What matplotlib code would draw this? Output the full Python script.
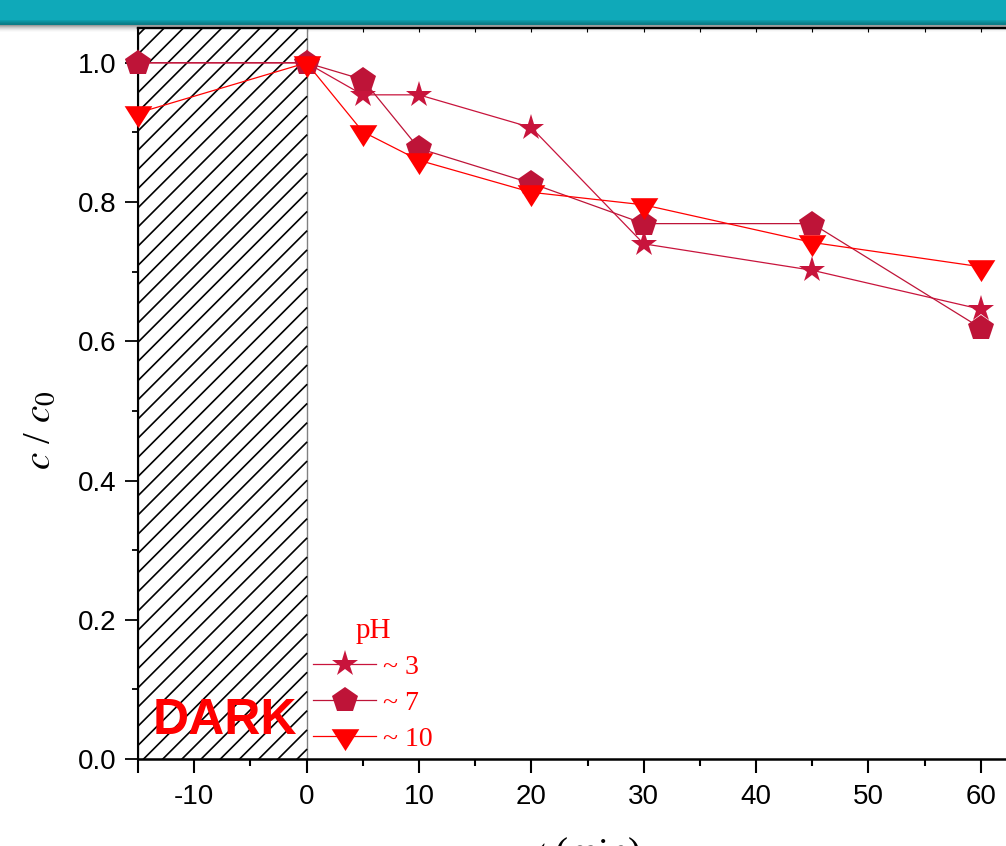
import matplotlib
matplotlib.use('Agg')
import matplotlib.pyplot as plt
import numpy as np
from matplotlib.patches import Rectangle
from matplotlib.lines import Line2D

# ---------------- data ----------------
time_min = [-15, 0, 5, 10, 20, 30, 45, 60]
ph3 = [1.0, 1.0, 0.954, 0.954, 0.907, 0.740, 0.702, 0.646]
ph7 = [1.0, 1.0, 0.976, 0.877, 0.827, 0.769, 0.769, 0.619]
ph10 = [0.928, 1.0, 0.901, 0.860, 0.814, 0.796, 0.742, 0.707]
series_labels = ['~ 3', '~ 7', '~ 10']
legend_title = 'pH'
x_ticks = [-15, -10, 0, 10, 20, 30, 40, 50, 60]
x_ticklabels = ['', '-10', '0', '10', '20', '30', '40', '50', '60']
y_ticks = [0.0, 0.2, 0.4, 0.6, 0.8, 1.0]
dark_start, dark_end = -15, 0

plt.rcParams['mathtext.fontset'] = 'stix'
SANS = 'Liberation Sans'
SERIF = 'Liberation Serif'

W, H = 1006, 846
fig = plt.figure(figsize=(W / 100, H / 100), dpi=100)
fig.patch.set_facecolor('white')

# slide banner
fig.add_artist(Rectangle((0, 1 - 20 / H), 1, 20 / H, transform=fig.transFigure,
                         facecolor='#0FA9B9', edgecolor='none', zorder=-5))
band_cols = ['#0D9CAB', '#0C929F', '#0B8995', '#0A808B', '#0B7D88']
for i, c in enumerate(band_cols):
    fig.add_artist(Rectangle((0, 1 - (21 + i) / H), 1, 1 / H, transform=fig.transFigure,
                             facecolor=c, edgecolor='none', zorder=-5))
shadow = ['#9C9C9C', '#B4B4B4', '#C9C9C9', '#DADADA', '#E8E8E8', '#F3F3F3', '#FAFAFA']
for i, c in enumerate(shadow):
    fig.add_artist(Rectangle((0, 1 - (26 + i) / H), 1, 1 / H, transform=fig.transFigure,
                             facecolor=c, edgecolor='none', zorder=-5))

ax = fig.add_axes([138 / W, 87 / H, (1037 - 138) / W, (759 - 28) / H])
ax.patch.set_alpha(0)
ax.set_xlim(-15, 65)
ax.set_ylim(0, 1.05)

# dark region with diagonal hatch (lines clipped to the region by hand)
rect = Rectangle((dark_start, 0), dark_end - dark_start, 1.05, facecolor='white',
                 edgecolor='#808080', linewidth=1.0, zorder=1)
ax.add_patch(rect)
p0 = ax.transData.transform((dark_start, 0))
p1 = ax.transData.transform((dark_end, 1.05))
hh = p1[1] - p0[1]
inv = ax.transData.inverted()
spacing = 19.2
c = p0[0] + 7 - hh
while c > p0[0] - hh:
    c -= spacing
while c < p1[0]:
    t0 = max(0.0, (p0[0] - c) / hh)
    t1 = min(1.0, (p1[0] - c) / hh)
    if t1 > t0:
        a = inv.transform((c + t0 * hh, p0[1] + t0 * hh))
        b = inv.transform((c + t1 * hh, p0[1] + t1 * hh))
        ax.add_line(Line2D([a[0], b[0]], [a[1], b[1]], color='black',
                           linewidth=1.2, zorder=1.5))
    c += spacing

ax.text(-7.3, 0.055, 'DARK', color='#FF0000', fontsize=36, fontweight='bold',
        family=SANS, ha='center', va='center', zorder=2)

# series
tri = [(-1, 0.527), (1, 0.527), (0, -1.053)]
c_star = '#C8143C'
c_pent = '#BE1438'
c_tri = '#FF0000'
l1, = ax.plot(time_min, ph3, color=c_star, linewidth=0.9, marker='*', markersize=20,
              markeredgewidth=0, label=series_labels[0], zorder=3, clip_on=False)
l2, = ax.plot(time_min, ph7, color=c_pent, linewidth=0.9, marker='p', markersize=19,
              markeredgewidth=0, label=series_labels[1], zorder=4, clip_on=False)
l3, = ax.plot(time_min, ph10, color=c_tri, linewidth=0.9, marker=tri, markersize=21,
              markeredgewidth=0, label=series_labels[2], zorder=5, clip_on=False)

leg = ax.legend(handles=[l1, l2, l3], labels=series_labels, title=legend_title,
                loc='lower left', bbox_to_anchor=(313 / W, (846 - 752) / H),
                bbox_transform=fig.transFigure, frameon=False, borderpad=0,
                borderaxespad=0, handlelength=2.27, handletextpad=0.25,
                labelspacing=0.38, prop={'family': SERIF, 'size': 20},
                title_fontproperties={'family': SERIF, 'size': 21})
for t in leg.get_texts():
    t.set_color('#FF0000')
leg.get_title().set_color('#FF0000')
leg.set_zorder(6)

# axes styling
ax.spines['right'].set_visible(False)
ax.spines['left'].set_linewidth(1.5)
ax.spines['bottom'].set_linewidth(1.8)
ax.spines['top'].set_linewidth(1.6)
for s in ('left', 'bottom', 'top'):
    ax.spines[s].set_zorder(2.5)

ax.set_xticks(x_ticks)
ax.set_xticklabels(x_ticklabels)
ax.set_xticks(np.arange(-5, 66, 10), minor=True)
ax.set_yticks(y_ticks)
ax.set_yticklabels([f'{v:.1f}' for v in y_ticks])
ax.set_yticks(np.arange(0.1, 1.05, 0.2), minor=True)

ax.tick_params(axis='x', which='major', direction='out', length=10, width=1.5,
               labelsize=20, pad=8)
ax.tick_params(axis='x', which='minor', direction='out', length=5, width=1.5)
ax.tick_params(axis='y', which='major', direction='out', length=9.5, width=1.3,
               labelsize=20, pad=6)
ax.tick_params(axis='y', which='minor', direction='out', length=4.5, width=1.3)
for lab in ax.get_xticklabels() + ax.get_yticklabels():
    lab.set_family(SANS)

sec = ax.secondary_xaxis('top')
sec.set_xticks(np.arange(-15, 66, 5))
sec.tick_params(axis='x', direction='in', length=3, width=0.8, labeltop=False)
sec.spines['top'].set_linewidth(1.6)

ax.set_ylabel(r'$c$ / $c_{\mathrm{0}}$', fontsize=28, family=SERIF)
ax.yaxis.label.set_va('center')
ax.yaxis.set_label_coords(-0.109, 0.45)
ax.set_xlabel(r'$t$ (min)', fontsize=28, family=SERIF)
ax.xaxis.label.set_va('top')
ax.xaxis.set_label_coords(0.5, -0.105)

fig.savefig('out.png', dpi=100)
